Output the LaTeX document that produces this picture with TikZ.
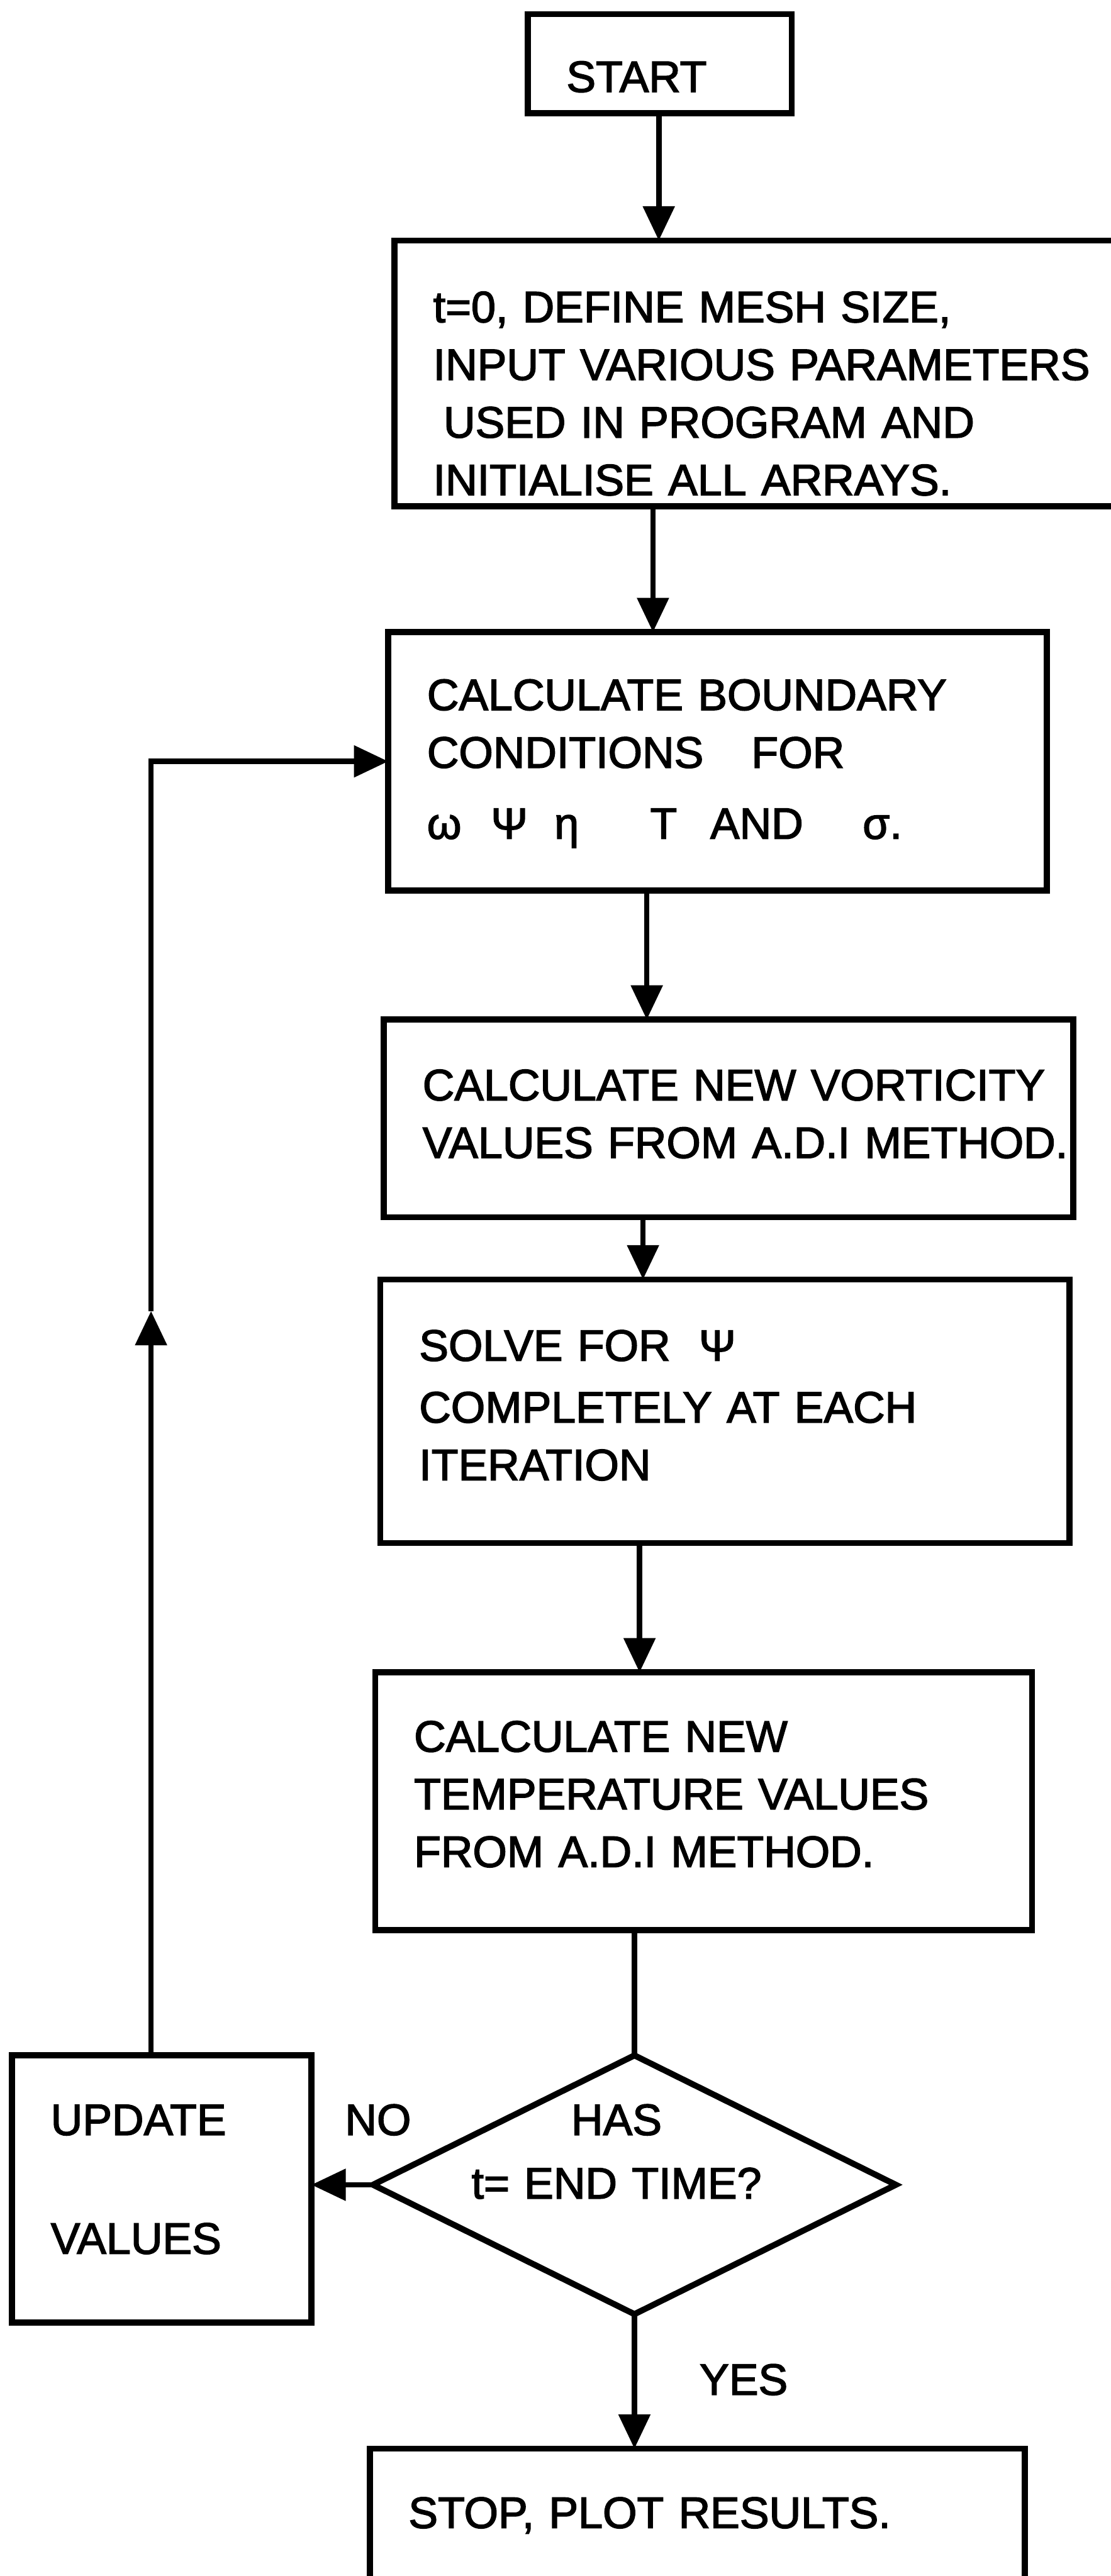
\documentclass[tikz,border=0pt]{standalone}
\usepackage{fontspec}
\setmainfont{Liberation Sans}[BoldFont={Liberation Sans}, BoldFeatures={FakeBold=2.2}]
\usetikzlibrary{positioning, shapes.geometric, arrows.meta}
\newcommand{\chartfont}{\fontsize{36.5}{47.8}\selectfont\bfseries}

\begin{document}
\begin{tikzpicture}[
    every node/.style={font=\chartfont, inner sep=0pt, outer sep=0pt},
    process/.style={draw, line width=5pt, anchor=north west, align=left,
        execute at begin node={\leftskip=1.13cm\relax}},
    decision/.style={draw, diamond, line width=5pt, minimum width=15.23cm, minimum height=7.54cm},
    flow/.style={line width=4.5pt, -{Triangle[length=1cm, width=0.9cm]}},
    plain/.style={line width=4.5pt}
]
\useasboundingbox (0,0) rectangle (32.35,-75.06);

% main column of the flowchart
\node[process, text width=7.69cm, text height=2.27cm, text depth=0.62cm] (start) at (15.37,-0.41) {START};
\node[process, text width=21.3cm, text height=2.38cm, text depth=5.36cm] (init) at (11.49,-7.01)
    {t=0, DEFINE MESH SIZE,\\INPUT VARIOUS PARAMETERS\\\hspace*{0.3cm}USED IN PROGRAM AND\\INITIALISE ALL ARRAYS.};
\node[process, text width=19.18cm, text height=2.27cm, text depth=5.26cm] (bound) at (11.31,-18.42)
    {CALCULATE BOUNDARY\\\makebox[9.45cm][l]{CONDITIONS}FOR\\[0.39cm]%
     \makebox[1.86cm][l]{ω}\makebox[1.85cm][l]{Ψ}\makebox[2.79cm][l]{η}\makebox[1.75cm][l]{T}\makebox[4.44cm][l]{AND}σ.};
\node[process, text width=20.08cm, text height=2.35cm, text depth=3.41cm] (vort) at (11.18,-29.71)
    {CALCULATE NEW VORTICITY\\VALUES FROM A.D.I METHOD.};
\node[process, text width=20.07cm, text height=2.37cm, text depth=5.31cm] (solve) at (11.08,-37.28)
    {\makebox[8.15cm][l]{SOLVE FOR}Ψ\\[0.12cm]COMPLETELY AT EACH\\ITERATION};
\node[process, text width=19.13cm, text height=2.31cm, text depth=5.20cm] (temp) at (10.93,-48.73)
    {CALCULATE NEW\\TEMPERATURE VALUES\\FROM A.D.I METHOD.};

% test and its two exits
\node[decision] (dec) at (18.48,-63.66) {};
\node[align=center, text width=9cm, anchor=base] (dectext) at (17.96,-62.21) {HAS\\[0.17cm]t= END TIME?};
\node[process, text width=8.72cm, text height=2.32cm, text depth=5.46cm] (upd) at (0.35,-59.89)
    {UPDATE\\[1.78cm]VALUES};
\node[process, text width=19.08cm, text height=2.31cm, text depth=2.69cm] (stop) at (10.77,-71.35)
    {STOP, PLOT RESULTS.};
\node[anchor=base west] (nolab) at (10.05,-62.21) {NO};
\node[anchor=base west] (yeslab) at (20.38,-69.78) {YES};

% connectors
\foreach \a/\b/\x in {start/init/19.19, init/bound/19.02, bound/vort/18.84, vort/solve/18.73, solve/temp/18.63}
    \draw[flow] (\a.south -| \x,0) -- (\b.north -| \x,0);
\draw[plain] (temp.south -| dec.north) -- (dec.north);
\draw[flow] (dec.south) -- (dec.south |- stop.north);
\draw[flow] (dec.west) -- (dec.west -| upd.east);

% loop back
\coordinate (loopmid) at (4.4,-38.2);
\draw[flow] (upd.north -| loopmid) -- (loopmid);
\draw[flow] (loopmid) |- (bound.west);

\end{tikzpicture}
\end{document}
